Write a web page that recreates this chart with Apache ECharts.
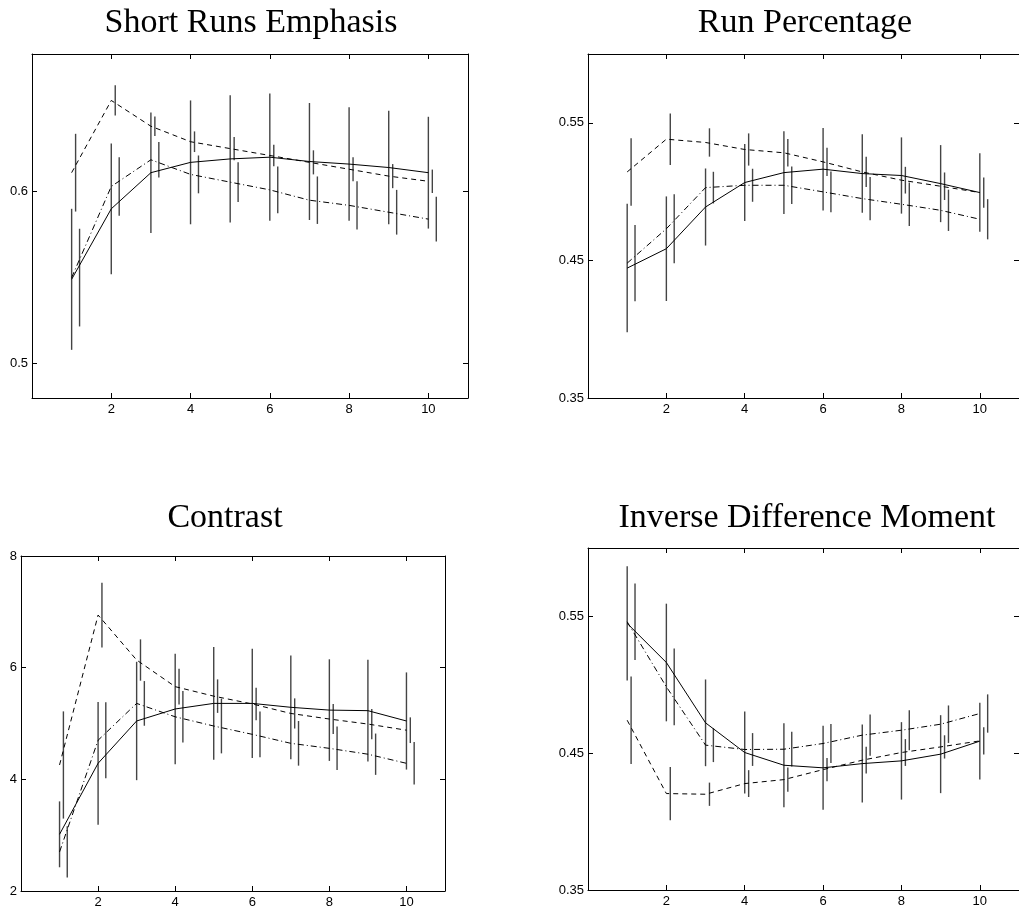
<!DOCTYPE html>
<html>
<head>
<meta charset="utf-8">
<script src="https://cdn.jsdelivr.net/npm/echarts@6/dist/echarts.min.js"></script>
<style>
  html, body { margin: 0; padding: 0; background: #fff; }
  #chart { width: 1019px; height: 911px; }
</style>
</head>
<body>
<div id="chart"></div>
<script>
// feature index on the x axis
const xs = [1, 2, 3, 4, 5, 6, 7, 8, 9, 10];
const xTicks = [2, 4, 6, 8, 10];

// Short Runs Emphasis
const sreSolid = [0.549, 0.590, 0.611, 0.617, 0.619, 0.620, 0.6175, 0.616, 0.614, 0.611];
const sreDash = [0.611, 0.653, 0.638, 0.629, 0.625, 0.621, 0.617, 0.613, 0.609, 0.606];
const sreDashDot = [0.550, 0.603, 0.6185, 0.610, 0.6055, 0.601, 0.595, 0.592, 0.588, 0.584];
const sreSolidErr = [0.041, 0.038, 0.035, 0.036, 0.037, 0.037, 0.034, 0.033, 0.033, 0.0325];
const sreDashErr = [0.0226, 0.0088, 0.0057, 0.006, 0.0068, 0.0063, 0.007, 0.007, 0.007, 0.0068];
const sreDashDotErr = [0.0284, 0.017, 0.0103, 0.011, 0.0115, 0.0136, 0.0138, 0.014, 0.013, 0.013];
const sreTicks = [0.5, 0.6];

// Run Percentage
const rpSolid = [0.4444, 0.4585, 0.4888, 0.5066, 0.5138, 0.5163, 0.5131, 0.5117, 0.5058, 0.4993];
const rpDash = [0.5143, 0.5381, 0.5357, 0.5306, 0.5282, 0.5216, 0.5143, 0.5083, 0.5039, 0.4993];
const rpDashDot = [0.448, 0.473, 0.5029, 0.5046, 0.5046, 0.4998, 0.4949, 0.4908, 0.4864, 0.4799];
const rpSolidErr = [0.0467, 0.038, 0.028, 0.028, 0.030, 0.030, 0.0285, 0.0277, 0.028, 0.0285];
const rpDashErr = [0.0245, 0.0187, 0.0103, 0.0117, 0.010, 0.0103, 0.011, 0.0097, 0.010, 0.011];
const rpDashDotErr = [0.0277, 0.025, 0.0115, 0.012, 0.0136, 0.0148, 0.0158, 0.0158, 0.015, 0.0146];
const rpTicks = [0.35, 0.45, 0.55];

// Contrast
const conSolid = [3.015, 4.287, 5.045, 5.26, 5.36, 5.36, 5.29, 5.24, 5.23, 5.045];
const conDash = [4.257, 6.943, 6.137, 5.66, 5.49, 5.35, 5.18, 5.08, 4.99, 4.88];
const conDashDot = [2.70, 4.70, 5.36, 5.12, 4.955, 4.806, 4.645, 4.555, 4.45, 4.287];
const conSolidErr = [0.59, 1.10, 1.06, 0.99, 1.01, 0.98, 0.93, 0.91, 0.91, 0.87];
const conDashErr = [0.96, 0.58, 0.37, 0.32, 0.30, 0.29, 0.27, 0.27, 0.27, 0.23];
const conDashDotErr = [0.46, 0.68, 0.40, 0.46, 0.49, 0.41, 0.40, 0.39, 0.37, 0.38];
const conTicks = [2, 4, 6, 8];

// Inverse Difference Moment
const idmSolid = [0.5449, 0.5163, 0.4722, 0.4505, 0.4412, 0.4393, 0.4424, 0.4444, 0.4493, 0.4588];
const idmDash = [0.4741, 0.4205, 0.420, 0.4278, 0.4307, 0.438, 0.4449, 0.4505, 0.4546, 0.459];
const idmDashDot = [0.5461, 0.4985, 0.4559, 0.4527, 0.4529, 0.4571, 0.4632, 0.4668, 0.4712, 0.479];
const idmSolidErr = [0.0417, 0.043, 0.0317, 0.030, 0.0307, 0.0307, 0.0285, 0.0283, 0.0285, 0.028];
const idmDashErr = [0.032, 0.0195, 0.0085, 0.0098, 0.0088, 0.0085, 0.0098, 0.0098, 0.0085, 0.010];
const idmDashDotErr = [0.028, 0.028, 0.0124, 0.012, 0.0127, 0.0142, 0.015, 0.0146, 0.0137, 0.014];
const idmTicks = [0.35, 0.45, 0.55];

// error bars of the 3 curves are drawn slightly shifted to the right
const barShift = [0, 0.1, 0.2];

const panels = [
  { title: 'Short Runs Emphasis', tx: 251, ty: 6, grid: { left: 32, top: 54, width: 436, height: 344 },
    ymin: 0.48, ymax: 0.68, ticks: sreTicks,
    lines: [sreSolid, sreDash, sreDashDot], errs: [sreSolidErr, sreDashErr, sreDashDotErr] },
  { title: 'Run Percentage', tx: 805, ty: 6, grid: { left: 588, top: 54, width: 435, height: 344 },
    ymin: 0.35, ymax: 0.60, ticks: rpTicks,
    lines: [rpSolid, rpDash, rpDashDot], errs: [rpSolidErr, rpDashErr, rpDashDotErr] },
  { title: 'Contrast', tx: 225, ty: 501, grid: { left: 21, top: 556, width: 424, height: 335 },
    ymin: 2, ymax: 8, ticks: conTicks,
    lines: [conSolid, conDash, conDashDot], errs: [conSolidErr, conDashErr, conDashDotErr] },
  { title: 'Inverse Difference Moment', tx: 807, ty: 501, grid: { left: 588, top: 548, width: 435, height: 342 },
    ymin: 0.35, ymax: 0.60, ticks: idmTicks,
    lines: [idmSolid, idmDash, idmDashDot], errs: [idmSolidErr, idmDashErr, idmDashDotErr] }
];

const lineTypes = ['solid', [5, 4], [6, 3, 1, 3]];
const axisFont = { fontFamily: 'Liberation Sans', fontSize: 13, color: '#000' };

let titles = [], grids = [], xAxes = [], yAxes = [], series = [];

panels.forEach(function (p, i) {
  titles.push({
    text: p.title, left: p.tx, top: p.ty, textAlign: 'center', padding: 0,
    textStyle: { fontFamily: 'Liberation Serif', fontSize: 34, fontWeight: 'normal', color: '#000' }
  });
  grids.push(p.grid);

  ['bottom', 'top'].forEach(function (pos, k) {
    xAxes.push({
      type: 'value', gridIndex: i, position: pos, min: 0, max: 11,
      splitLine: { show: false },
      axisLine: { show: true, onZero: false, lineStyle: { color: '#000', width: 1 } },
      axisTick: { show: true, inside: true, length: 5, customValues: xTicks, lineStyle: { color: '#000' } },
      axisLabel: Object.assign({ show: k === 0, margin: 5, customValues: xTicks,
        formatter: function (v) { return String(v); } }, axisFont)
    });
  });
  ['left', 'right'].forEach(function (pos, k) {
    yAxes.push({
      type: 'value', gridIndex: i, position: pos, min: p.ymin, max: p.ymax,
      splitLine: { show: false },
      axisLine: { show: true, onZero: false, lineStyle: { color: '#000', width: 1 } },
      axisTick: { show: true, inside: true, length: 5, customValues: p.ticks, lineStyle: { color: '#000' } },
      axisLabel: Object.assign({ show: k === 0, margin: 4, customValues: p.ticks,
        formatter: function (v) { return String(+v.toFixed(2)); } }, axisFont)
    });
  });

  // error bars
  let bars = [];
  p.lines.forEach(function (vals, s) {
    vals.forEach(function (v, j) {
      bars.push([xs[j] + barShift[s], v - p.errs[s][j], v + p.errs[s][j]]);
    });
  });
  series.push({
    type: 'custom', xAxisIndex: i * 2, yAxisIndex: i * 2, data: bars, silent: true,
    renderItem: function (params, api) {
      const a = api.coord([api.value(0), api.value(1)]);
      const b = api.coord([api.value(0), api.value(2)]);
      return { type: 'line', shape: { x1: a[0], y1: a[1], x2: b[0], y2: b[1] },
        style: { stroke: '#444', lineWidth: 1.4 } };
    }
  });

  p.lines.forEach(function (vals, s) {
    series.push({
      type: 'line', xAxisIndex: i * 2, yAxisIndex: i * 2, symbol: 'none', silent: true,
      data: xs.map(function (x, j) { return [x, vals[j]]; }),
      lineStyle: { color: '#000', width: 1, type: lineTypes[s] }
    });
  });
});

const chart = echarts.init(document.getElementById('chart'));
chart.setOption({
  animation: false,
  backgroundColor: '#fff',
  title: titles,
  grid: grids,
  xAxis: xAxes,
  yAxis: yAxes,
  series: series
});
</script>
</body>
</html>
